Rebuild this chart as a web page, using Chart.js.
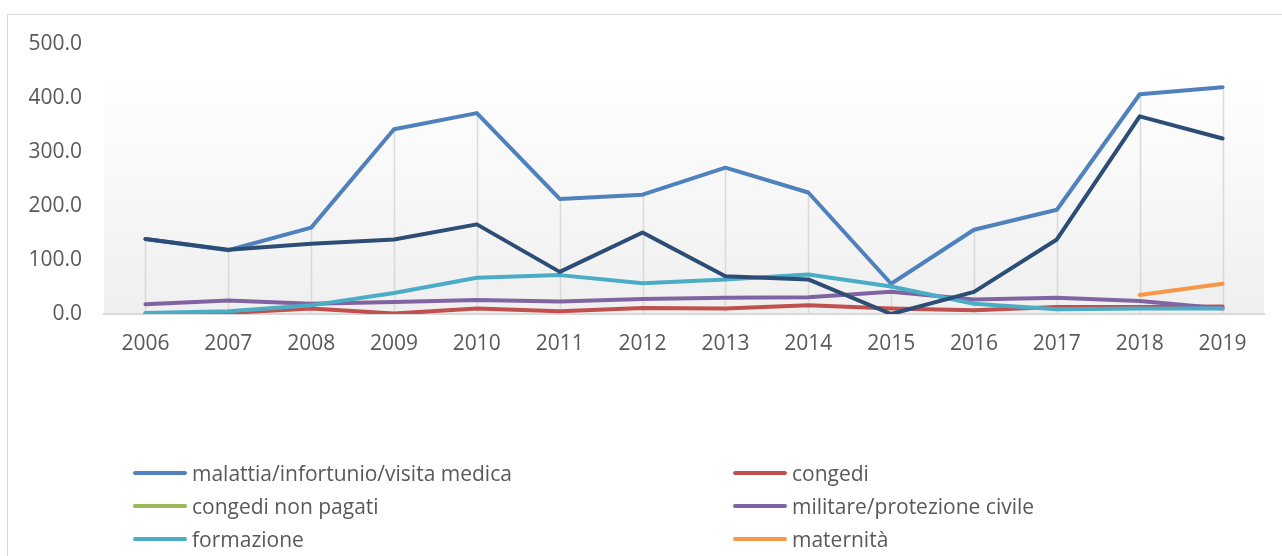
<!DOCTYPE html>
<html>
<head>
<meta charset="utf-8">
<script src="https://cdn.jsdelivr.net/npm/chart.js@4"></script>
<style>
  html, body { margin: 0; padding: 0; background: #ffffff; overflow: hidden; }
  body { width: 1282px; height: 556px; position: relative; font-family: "Open Sans", sans-serif; }
  #frame { position: absolute; left: 7px; top: 14px; width: 1400px; height: 700px; border: 1px solid #d9d9d9; box-sizing: border-box; }
  #c { position: absolute; left: 0; top: 0; }
  .lg { position: absolute; height: 33px; display: flex; align-items: center; font-size: 21px; color: #595959; white-space: nowrap; }
  .lg .sw { display: inline-block; width: 54px; height: 4px; border-radius: 2px; margin-right: 5px; }
</style>
</head>
<body>
<div id="frame"></div>
<canvas id="c" width="1282" height="556"></canvas>
<div id="legend"></div>
<script>
// ---- data ----
const years = ['2006','2007','2008','2009','2010','2011','2012','2013','2014','2015','2016','2017','2018','2019'];
const malattia   = [139, 118, 160, 342, 372, 213, 221, 271, 225, 56, 156, 193, 407, 420];
const congedi    = [1, 2, 10, 1, 10, 5, 11, 10, 16, 10, 7, 13, 13, 14];
const congediNonPagati = [null, null, null, null, null, null, null, null, null, null, null, null, null, null];
const militare   = [18, 25, 19, 22, 26, 23, 28, 30, 31, 41, 27, 30, 24, 10];
const formazione = [2, 5, 16, 39, 67, 72, 57, 64, 73, 51, 19, 9, 10, 10];
const maternita  = [null, null, null, null, null, null, null, null, null, null, null, null, 35, 56];
const altro      = [139, 119, 130, 138, 166, 78, 151, 70, 64, 0, 41, 138, 366, 325];
const yTicks = [0, 100, 200, 300, 400, 500];

const seriesNames  = ['malattia/infortunio/visita medica', 'congedi', 'congedi non pagati', 'militare/protezione civile', 'formazione', 'maternità', 'altro'];
const seriesData   = [malattia, congedi, congediNonPagati, militare, formazione, maternita, altro];
const seriesColors = ['#4F81BD', '#C0504D', '#9BBB59', '#8064A2', '#4BACC6', '#F79646', '#2C4D75'];
const inLegend     = [true, true, true, true, true, true, false];

const datasets = seriesNames.map((name, i) => ({
  label: name,
  data: seriesData[i],
  borderColor: seriesColors[i],
  backgroundColor: seriesColors[i],
  borderWidth: 4,
  pointRadius: 0,
  pointHoverRadius: 0,
  tension: 0,
  fill: false,
  spanGaps: false,
  borderCapStyle: 'round',
  borderJoinStyle: 'round',
  order: seriesNames.length - i
}));

const bgPlugin = {
  id: 'bgGradient',
  beforeDraw(chart) {
    const { ctx, chartArea: a } = chart;
    const top = a.top + (a.bottom - a.top) * 0.104;
    const g = ctx.createLinearGradient(0, top, 0, a.bottom);
    g.addColorStop(0, '#ffffff');
    g.addColorStop(1, '#efefef');
    ctx.save();
    ctx.fillStyle = g;
    ctx.fillRect(a.left, top, a.right - a.left, a.bottom - top);
    ctx.restore();
  }
};

const dropLines = {
  id: 'dropLines',
  beforeDatasetsDraw(chart) {
    const { ctx, scales: { x, y } } = chart;
    ctx.save();
    ctx.strokeStyle = '#d9d9d9';
    ctx.lineWidth = 1.5;
    years.forEach((yr, i) => {
      let mx = null;
      seriesData.forEach(arr => {
        const v = arr[i];
        if (v !== null && v !== undefined && (mx === null || v > mx)) mx = v;
      });
      if (mx === null) return;
      const px = Math.round(x.getPixelForValue(i)) + 0.5;
      ctx.beginPath();
      ctx.moveTo(px, y.getPixelForValue(mx));
      ctx.lineTo(px, y.getPixelForValue(0));
      ctx.stroke();
    });
    ctx.restore();
  }
};

new Chart(document.getElementById('c'), {
  type: 'line',
  data: { labels: years, datasets },
  options: {
    responsive: false,
    animation: false,
    events: [],
    layout: { padding: { left: 0, right: 18, top: 44, bottom: 0 } },
    plugins: { legend: { display: false }, tooltip: { enabled: false }, title: { display: false } },
    scales: {
      x: {
        offset: true,
        grid: { display: false, drawTicks: false },
        border: { display: true, color: '#d9d9d9', width: 2 },
        ticks: { color: '#595959', font: { family: 'Open Sans', size: 21 }, padding: 17, maxRotation: 0, autoSkip: false },
        afterFit(s) { s.height = 242; }
      },
      y: {
        min: 0, max: 500,
        afterBuildTicks(s) { s.ticks = yTicks.map(v => ({ value: v })); },
        grid: { display: false, drawTicks: false },
        border: { display: false },
        ticks: { color: '#595959', font: { family: 'Open Sans', size: 21 }, padding: 22, callback: v => Number(v).toFixed(1) },
        afterFit(s) { s.width = 104; }
      }
    }
  },
  plugins: [bgPlugin, dropLines]
});

// ---- legend (two columns, as in reference) ----
const legendEl = document.getElementById('legend');
const colLeft = [133, 733];
const rowCenter = [473, 506, 539];
let k = 0;
seriesNames.forEach((name, i) => {
  if (!inLegend[i]) return;
  const row = Math.floor(k / 2), col = k % 2;
  const item = document.createElement('div');
  item.className = 'lg';
  item.style.left = colLeft[col] + 'px';
  item.style.top = (rowCenter[row] - 16.5) + 'px';
  const sw = document.createElement('span');
  sw.className = 'sw';
  sw.style.background = seriesColors[i];
  const tx = document.createElement('span');
  tx.textContent = name;
  item.appendChild(sw);
  item.appendChild(tx);
  legendEl.appendChild(item);
  k++;
});
</script>
</body>
</html>
